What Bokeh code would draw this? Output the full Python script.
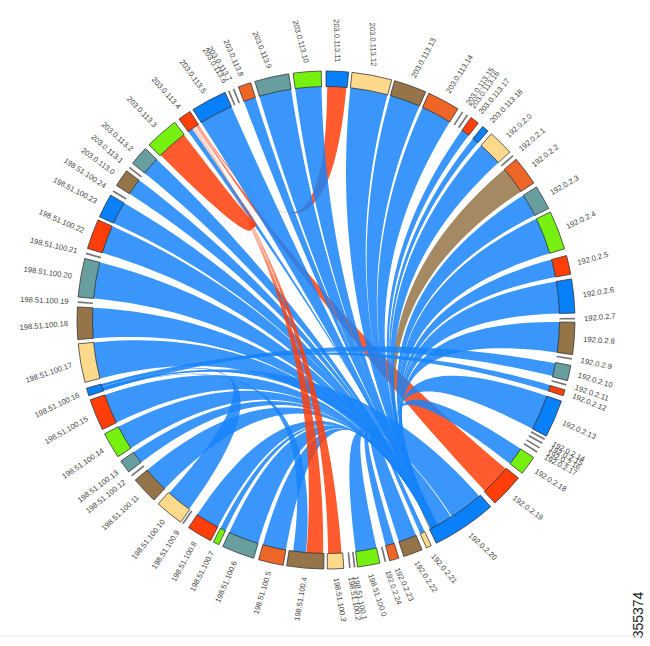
import numpy as np
from bokeh.plotting import figure
from bokeh.models import ColumnDataSource, Span
from bokeh.core.properties import value
from bokeh.embed import file_html
from bokeh.resources import INLINE

# ---- data ----
node_names = ["192.0.2.0","192.0.2.1","192.0.2.2","192.0.2.3","192.0.2.4","192.0.2.5","192.0.2.6","192.0.2.7","192.0.2.8","192.0.2.9",
 "192.0.2.10","192.0.2.11","192.0.2.12","192.0.2.13","192.0.2.14","192.0.2.15","192.0.2.16","192.0.2.17","192.0.2.18","192.0.2.19",
 "192.0.2.20","192.0.2.21","192.0.2.22","192.0.2.23","192.0.2.24",
 "198.51.100.0","198.51.100.1","198.51.100.2","198.51.100.3","198.51.100.4","198.51.100.5","198.51.100.6","198.51.100.7","198.51.100.8","198.51.100.9",
 "198.51.100.10","198.51.100.11","198.51.100.12","198.51.100.13","198.51.100.14","198.51.100.15","198.51.100.16","198.51.100.17","198.51.100.18","198.51.100.19",
 "198.51.100.20","198.51.100.21","198.51.100.22","198.51.100.23","198.51.100.24",
 "203.0.113.0","203.0.113.1","203.0.113.2","203.0.113.3","203.0.113.4","203.0.113.5","203.0.113.6","203.0.113.7","203.0.113.8","203.0.113.9",
 "203.0.113.10","203.0.113.11","203.0.113.12","203.0.113.13","203.0.113.14","203.0.113.15","203.0.113.16","203.0.113.17","203.0.113.18"]
node_start = [41.6,48.5,49.8,57.7,64.3,75.0,80.5,89.5,90.5,98.8,
 100.5,104.9,106.3,109.0,118.4,119.5,120.7,121.8,123.5,129.4,
 138.6,155.0,157.3,163.0,166.0,
 167.5,173.2,174.3,175.9,180.5,189.9,196.9,205.5,207.6,214.9,
 215.7,223.7,231.1,232.4,236.7,243.9,252.3,255.5,265.5,273.9,
 275.3,285.3,286.7,294.5,301.0,
 302.7,307.6,309.0,314.7,323.8,327.7,336.8,338.0,339.4,343.4,
 352.4,0.0,6.0,16.0,24.4,33.1,34.4,35.6,39.0]
node_end = [47.6,48.9,56.6,63.4,73.4,79.4,88.4,89.9,98.0,99.2,
 104.1,105.3,107.7,117.8,118.8,119.9,121.1,122.2,128.0,137.3,
 153.7,156.2,161.8,165.2,166.4,
 172.7,173.6,174.7,179.7,189.1,195.7,204.5,206.9,213.5,215.3,
 222.4,230.0,231.5,235.5,242.8,251.3,254.1,264.5,273.0,274.3,
 284.3,285.7,293.7,300.1,301.4,
 306.8,308.0,313.5,322.6,326.9,336.1,337.2,338.4,342.4,351.4,
 358.9,5.2,15.3,23.6,32.0,33.5,34.8,37.7,40.6]
node_colors = ["#FDD98C","#777777","#EE6528","#689E9E","#76F00E","#FF3E0A","#0880FA","#777777","#947448","#777777",
 "#689E9E","#777777","#FF3E0A","#0880FA","#777777","#777777","#777777","#777777","#76F00E","#FF3E0A",
 "#0880FA","#FDD98C","#947448","#EE6528","#777777",
 "#76F00E","#777777","#777777","#FDD98C","#947448","#EE6528","#689E9E","#76F00E","#FF3E0A","#777777",
 "#FDD98C","#947448","#777777","#689E9E","#76F00E","#FF3E0A","#0880FA","#FDD98C","#947448","#777777",
 "#689E9E","#777777","#FF3E0A","#0880FA","#777777",
 "#947448","#777777","#689E9E","#76F00E","#FF3E0A","#0880FA","#777777","#777777","#EE6528","#689E9E",
 "#76F00E","#0880FA","#FDD98C","#947448","#EE6528","#777777","#777777","#FF3E0A","#0880FA"]
label_rot = [42,40,38,30,26,16,10,5,-4,-12,
 -17,-19,-22,-24,-27,-26,-25,-28,-32,-37,
 -43,-50,-57,-65,-70.6,
 -71.5,-78.5,-80,-80,80,73,67,63,61,57,
 51.6,43,39,36.8,34,29.5,25.6,19,5,-2.7,
 -8.5,-13,-23.5,-27.5,-33,
 -36.5,-41,-42,-46.5,-48.6,-54,-58.7,-58,-66,-67.5,
 -75,-88,-88,62,58,55.6,55,50,46]

# nodes whose whole span flows into the narrow end of 192.0.2.20
hub_a_sources = ["192.0.2.0","192.0.2.3","192.0.2.4","192.0.2.5","192.0.2.6","192.0.2.8","192.0.2.13","192.0.2.18",
 "192.0.2.21","192.0.2.22","192.0.2.23","198.51.100.0","198.51.100.5","198.51.100.6","198.51.100.7","198.51.100.8",
 "198.51.100.11","198.51.100.13","198.51.100.14","198.51.100.15","198.51.100.17","198.51.100.18","198.51.100.20",
 "198.51.100.22","198.51.100.23","203.0.113.0","203.0.113.2","203.0.113.5","203.0.113.8","203.0.113.9","203.0.113.10",
 "203.0.113.12","203.0.113.13","203.0.113.14","203.0.113.17","203.0.113.18"]
hub_a_start, hub_a_end = 151.2, 153.6
hub_link_width = 0.5
# links that share a node or end on 198.51.100.16: span at source, span at target
link_from  = [184.9, 139.0, 147.6, 100.7, 106.2, 215.9]
link_to    = [188.1, 147.4, 151.2, 103.9, 107.8, 222.2]
link_tfrom = [252.5, 252.7, 253.0, 252.3, 253.4, 253.6]
link_tto   = [252.7, 253.0, 253.2, 253.4, 254.1, 253.9]
# red links that all end on 203.0.113.4: 192.0.2.19 and 203.0.113.11 lie under the blue
red_from   = [129.6, 0.3]
red_to     = [137.1, 5.0]
red_tfrom  = [326.1, 326.5]
red_tto    = [326.5, 326.9]
# 203.0.113.3, 198.51.100.4 and 198.51.100.3 lie over the blue
top_from   = [314.9, 180.7, 176.2]
top_to     = [322.5, 184.8, 179.5]
top_tfrom  = [325.0, 325.3, 325.7]
top_tto    = [325.5, 325.7, 326.0]

# ---- geometry ----
CX, CY = 325.5, 646 - 319.5
R_OUT, R_IN, R_LAB = 249.0, 233.5, 258.0

def polar(theta, r):
    t = np.radians(theta)
    return CX + r*np.sin(t), CY + r*np.cos(t)

def quad(x0, y0, x1, y1, n=50):
    u = np.linspace(0, 1, n)
    return (1-u)**2*x0 + 2*u*(1-u)*CX + u**2*x1, (1-u)**2*y0 + 2*u*(1-u)*CY + u**2*y1

def ribbon(a0, a1, b0, b1):
    xa, ya = polar(np.linspace(a0, a1, 16), R_IN + 1)
    xb, yb = polar(np.linspace(b0, b1, 8), R_IN + 1)
    x1, y1 = quad(xa[-1], ya[-1], xb[0], yb[0])
    x2, y2 = quad(xb[-1], yb[-1], xa[0], ya[0])
    return list(np.concatenate([xa, x1, xb, x2])), list(np.concatenate([ya, y1, yb, y2]))

idx = {n: i for i, n in enumerate(node_names)}
p = figure(width=644, height=640, x_range=(0, 644), y_range=(6, 646), output_backend="svg",
           toolbar_location=None, min_border=0, outline_line_color=None)
p.axis.visible = False
p.grid.visible = False

BLUE = "#1784F9"
RED = "#FF3E0A"
def draw(x, y, color, alpha=0.85):
    p.patches([x], [y], fill_color=color, fill_alpha=alpha, line_color=None)

def faded(a0, a1, b0, b1, color, fade_from=0.55, fade_to=0.82, low=0.18, n=30):
    """A ribbon whose colour thins out toward its target end."""
    xa, ya = polar(np.linspace(a0, a1, 16), R_IN + 1)
    xb, yb = polar(np.linspace(b0, b1, 4), R_IN + 1)
    ex1, ey1 = quad(xa[-1], ya[-1], xb[0], yb[0], n + 1)
    ex2, ey2 = quad(xa[0], ya[0], xb[-1], yb[-1], n + 1)
    k0 = int(fade_from*n)
    x = list(xa) + list(ex1[:k0+1]) + list(ex2[:k0+1][::-1])
    y = list(ya) + list(ey1[:k0+1]) + list(ey2[:k0+1][::-1])
    draw(x, y, color)
    for k in range(k0, n):
        t = (k + 0.5)/n
        w = min(1.0, max(0.0, (t - fade_from)/(fade_to - fade_from)))
        alpha = 0.85 + (low - 0.85)*w
        x = [ex1[k], ex1[k+1], ex2[k+1], ex2[k]]
        y = [ey1[k], ey1[k+1], ey2[k+1], ey2[k]]
        draw(x, y, color, alpha)

# links under the blue ones
for f, t, tf, tt in zip(red_from, red_to, red_tfrom, red_tto):
    faded(f, t, tf, tt, RED, 0.8, 0.95, 0.5)
i2 = idx["192.0.2.2"]
draw(*ribbon(node_start[i2], node_end[i2], 153.3, 153.6), "#947448")

# blue links to the narrow end of 192.0.2.20, fanned without crossing there and overlapping at it
order = sorted(hub_a_sources, key=lambda n: (node_start[idx[n]] - hub_a_end) % 360)
widths = np.array([node_end[idx[n]] - node_start[idx[n]] for n in order])
hub_top = hub_a_end - 0.3
cum = np.concatenate([[0], np.cumsum(widths)]) / widths.sum() * (hub_top - hub_a_start - hub_link_width)
for k, n in enumerate(order):
    i = idx[n]
    draw(*ribbon(node_start[i], node_end[i], hub_top - cum[k] - hub_link_width, hub_top - cum[k]), BLUE)
i4 = idx["203.0.113.4"]
draw(*ribbon(node_start[i4], 325.0, hub_a_start, hub_a_start + 0.1), BLUE)
for f, t, tf, tt in zip(link_from, link_to, link_tfrom, link_tto):
    draw(*ribbon(f, t, tf, tt), BLUE)

# red links above the blue ones
for f, t, tf, tt in zip(top_from, top_to, top_tfrom, top_tto):
    faded(f, t, tf, tt, RED)

# ring of nodes
ns = ColumnDataSource(dict(
    start=[np.radians(90 - e) for e in node_end],
    end=[np.radians(90 - s) for s in node_start],
    color=node_colors,
    line=["#2f2f2f" for c in node_colors],
    lw=[0 if c == "#777777" else 1 for c in node_colors],
    x=[CX]*len(node_names), y=[CY]*len(node_names)))
p.annular_wedge(x="x", y="y", inner_radius=R_IN, outer_radius=R_OUT, start_angle="start", end_angle="end",
                fill_color="color", line_color="line", line_width="lw", line_alpha=0.75, source=ns)

# labels
mid = [((s + ((e - s) % 360)/2)) % 360 for s, e in zip(node_start, node_end)]
left_names = [i for i, n in enumerate(node_names) if (idx["192.0.2.0"] <= i <= idx["198.51.100.3"]) or i >= idx["203.0.113.13"]]
right_names = [i for i in range(len(node_names)) if i not in left_names]
for ids, align in ((left_names, "left"), (right_names, "right")):
    xy = [polar(mid[i], R_LAB) for i in ids]
    src = ColumnDataSource(dict(x=[a for a, _ in xy], y=[b for _, b in xy],
                                t=[node_names[i] for i in ids], a=[label_rot[i] for i in ids]))
    p.text(x="x", y="y", text="t", angle="a", angle_units="deg", source=src, text_align=align,
           text_baseline="middle", text_font=value("Liberation Sans"), text_font_size="7.6px", text_color="#444444")

# figure number and rule
p.text(x=[642], y=[646-614.5], text=["355374"], angle=[90], angle_units="deg", text_align="center", text_baseline="bottom",
       text_font=value("Liberation Sans"), text_font_size="14px", text_color="#222222")
p.add_layout(Span(location=646-635.5, dimension="width", line_color="#ececec", line_width=1))

open("out.html", "w").write(file_html(p, INLINE))
